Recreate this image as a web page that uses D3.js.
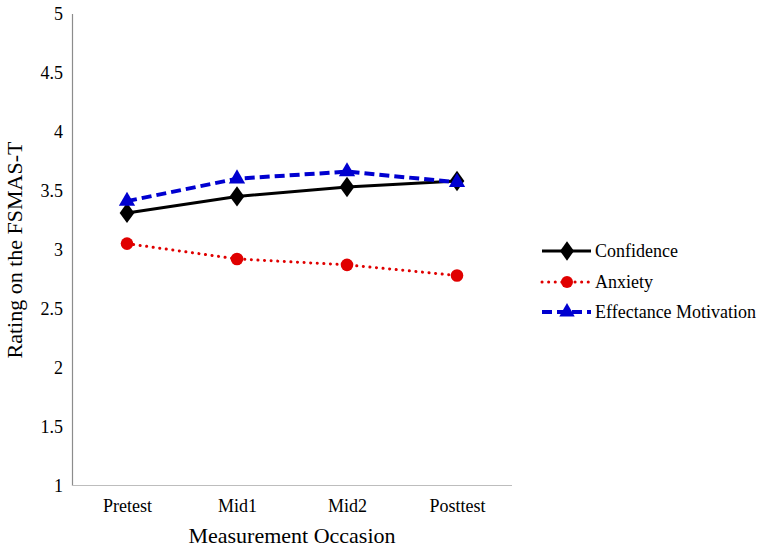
<!DOCTYPE html>
<html><head><meta charset="utf-8">
<script src="https://cdn.jsdelivr.net/npm/d3@7"></script>
<style>body{margin:0;background:#fff}svg{display:block}</style>
</head><body><svg id="c" width="761" height="550"></svg>
<script>
const categories = ["Pretest","Mid1","Mid2","Posttest"];
const confidence = [3.31, 3.45, 3.53, 3.58];
const anxiety = [3.05, 2.92, 2.87, 2.78];
const effectance = [3.41, 3.60, 3.66, 3.57];
const yTicks = [1,1.5,2,2.5,3,3.5,4,4.5,5];
const seriesNames = ["Confidence","Anxiety","Effectance Motivation"];

const FONT = "'Liberation Serif', 'Times New Roman', serif";
const svg = d3.select("#c").attr("font-family", FONT);
const x = d3.scalePoint().domain(categories).range([72,512]).padding(0.5);
const y = d3.scaleLinear().domain([1,5]).range([485.5,13.5]);

// axes
const gy = svg.append("g").attr("transform","translate(72,0)")
  .call(d3.axisLeft(y).tickValues(yTicks).tickSize(0).tickPadding(9).tickFormat(d3.format("")))
  .attr("font-family", FONT).attr("font-size", 18);
gy.select(".domain").attr("stroke","#8c8c8c").attr("stroke-width",1.2);
gy.selectAll("text").attr("fill","#000");
const gx = svg.append("g").attr("transform","translate(0,485.5)")
  .call(d3.axisBottom(x).tickSize(0).tickPadding(14))
  .attr("font-family", FONT).attr("font-size", 18);
gx.select(".domain").attr("stroke","#bdbdbd").attr("stroke-width",1.2).attr("d","M72,0H512");
gx.selectAll("text").attr("fill","#000");

svg.append("text").attr("x",292).attr("y",543).attr("text-anchor","middle")
  .attr("font-family", FONT).attr("font-size",22).text("Measurement Occasion");
svg.append("text").attr("transform","translate(22,250) rotate(-90)").attr("text-anchor","middle")
  .attr("font-family", FONT).attr("font-size",22).text("Rating on the FSMAS-T");

const series = [
  {name:seriesNames[0], vals:confidence, color:"#000", width:3, dash:null, cap:"butt", sym:d3.symbolDiamond, size:120},
  {name:seriesNames[1], vals:anxiety, color:"#e00000", width:3, dash:"0.1,6.5", cap:"round", sym:d3.symbolCircle, size:125},
  {name:seriesNames[2], vals:effectance, color:"#0000d0", width:4, dash:"10,5", cap:"butt", sym:d3.symbolTriangle, size:115}
];
const line = d3.line().x((d,i)=>x(categories[i])).y(d=>y(d));
const order = [1,0,2];
order.forEach(k=>{
  const s = series[k];
  const g = svg.append("g");
  g.append("path").attr("d",line(s.vals)).attr("fill","none").attr("stroke",s.color)
    .attr("stroke-width",s.width).attr("stroke-dasharray",s.dash).attr("stroke-linecap",s.cap);
  g.selectAll("path.m").data(s.vals).join("path").attr("class","m")
    .attr("d",d3.symbol(s.sym, s.size))
    .attr("transform",(d,i)=>`translate(${x(categories[i])},${y(d)})${s.sym===d3.symbolDiamond?" scale(1.25,1)":""}`)
    .attr("fill",s.color);
});

// legend
const ly = [251, 282, 312];
series.forEach((s,i)=>{
  const g = svg.append("g").attr("transform",`translate(0,${ly[i]})`);
  g.append("line").attr("x1",542).attr("x2",591).attr("y1",0).attr("y2",0)
    .attr("stroke",s.color).attr("stroke-width",s.width).attr("stroke-dasharray",s.dash).attr("stroke-linecap",s.cap);
  g.append("path").attr("d",d3.symbol(s.sym, s.size*0.9)).attr("fill",s.color)
    .attr("transform",`translate(567,0)${s.sym===d3.symbolDiamond?" scale(1.25,1)":""}`);
  g.append("text").attr("x",595).attr("y",6).attr("font-family", FONT).attr("font-size",18).attr("fill","#000").text(s.name);
});
</script></body></html>
